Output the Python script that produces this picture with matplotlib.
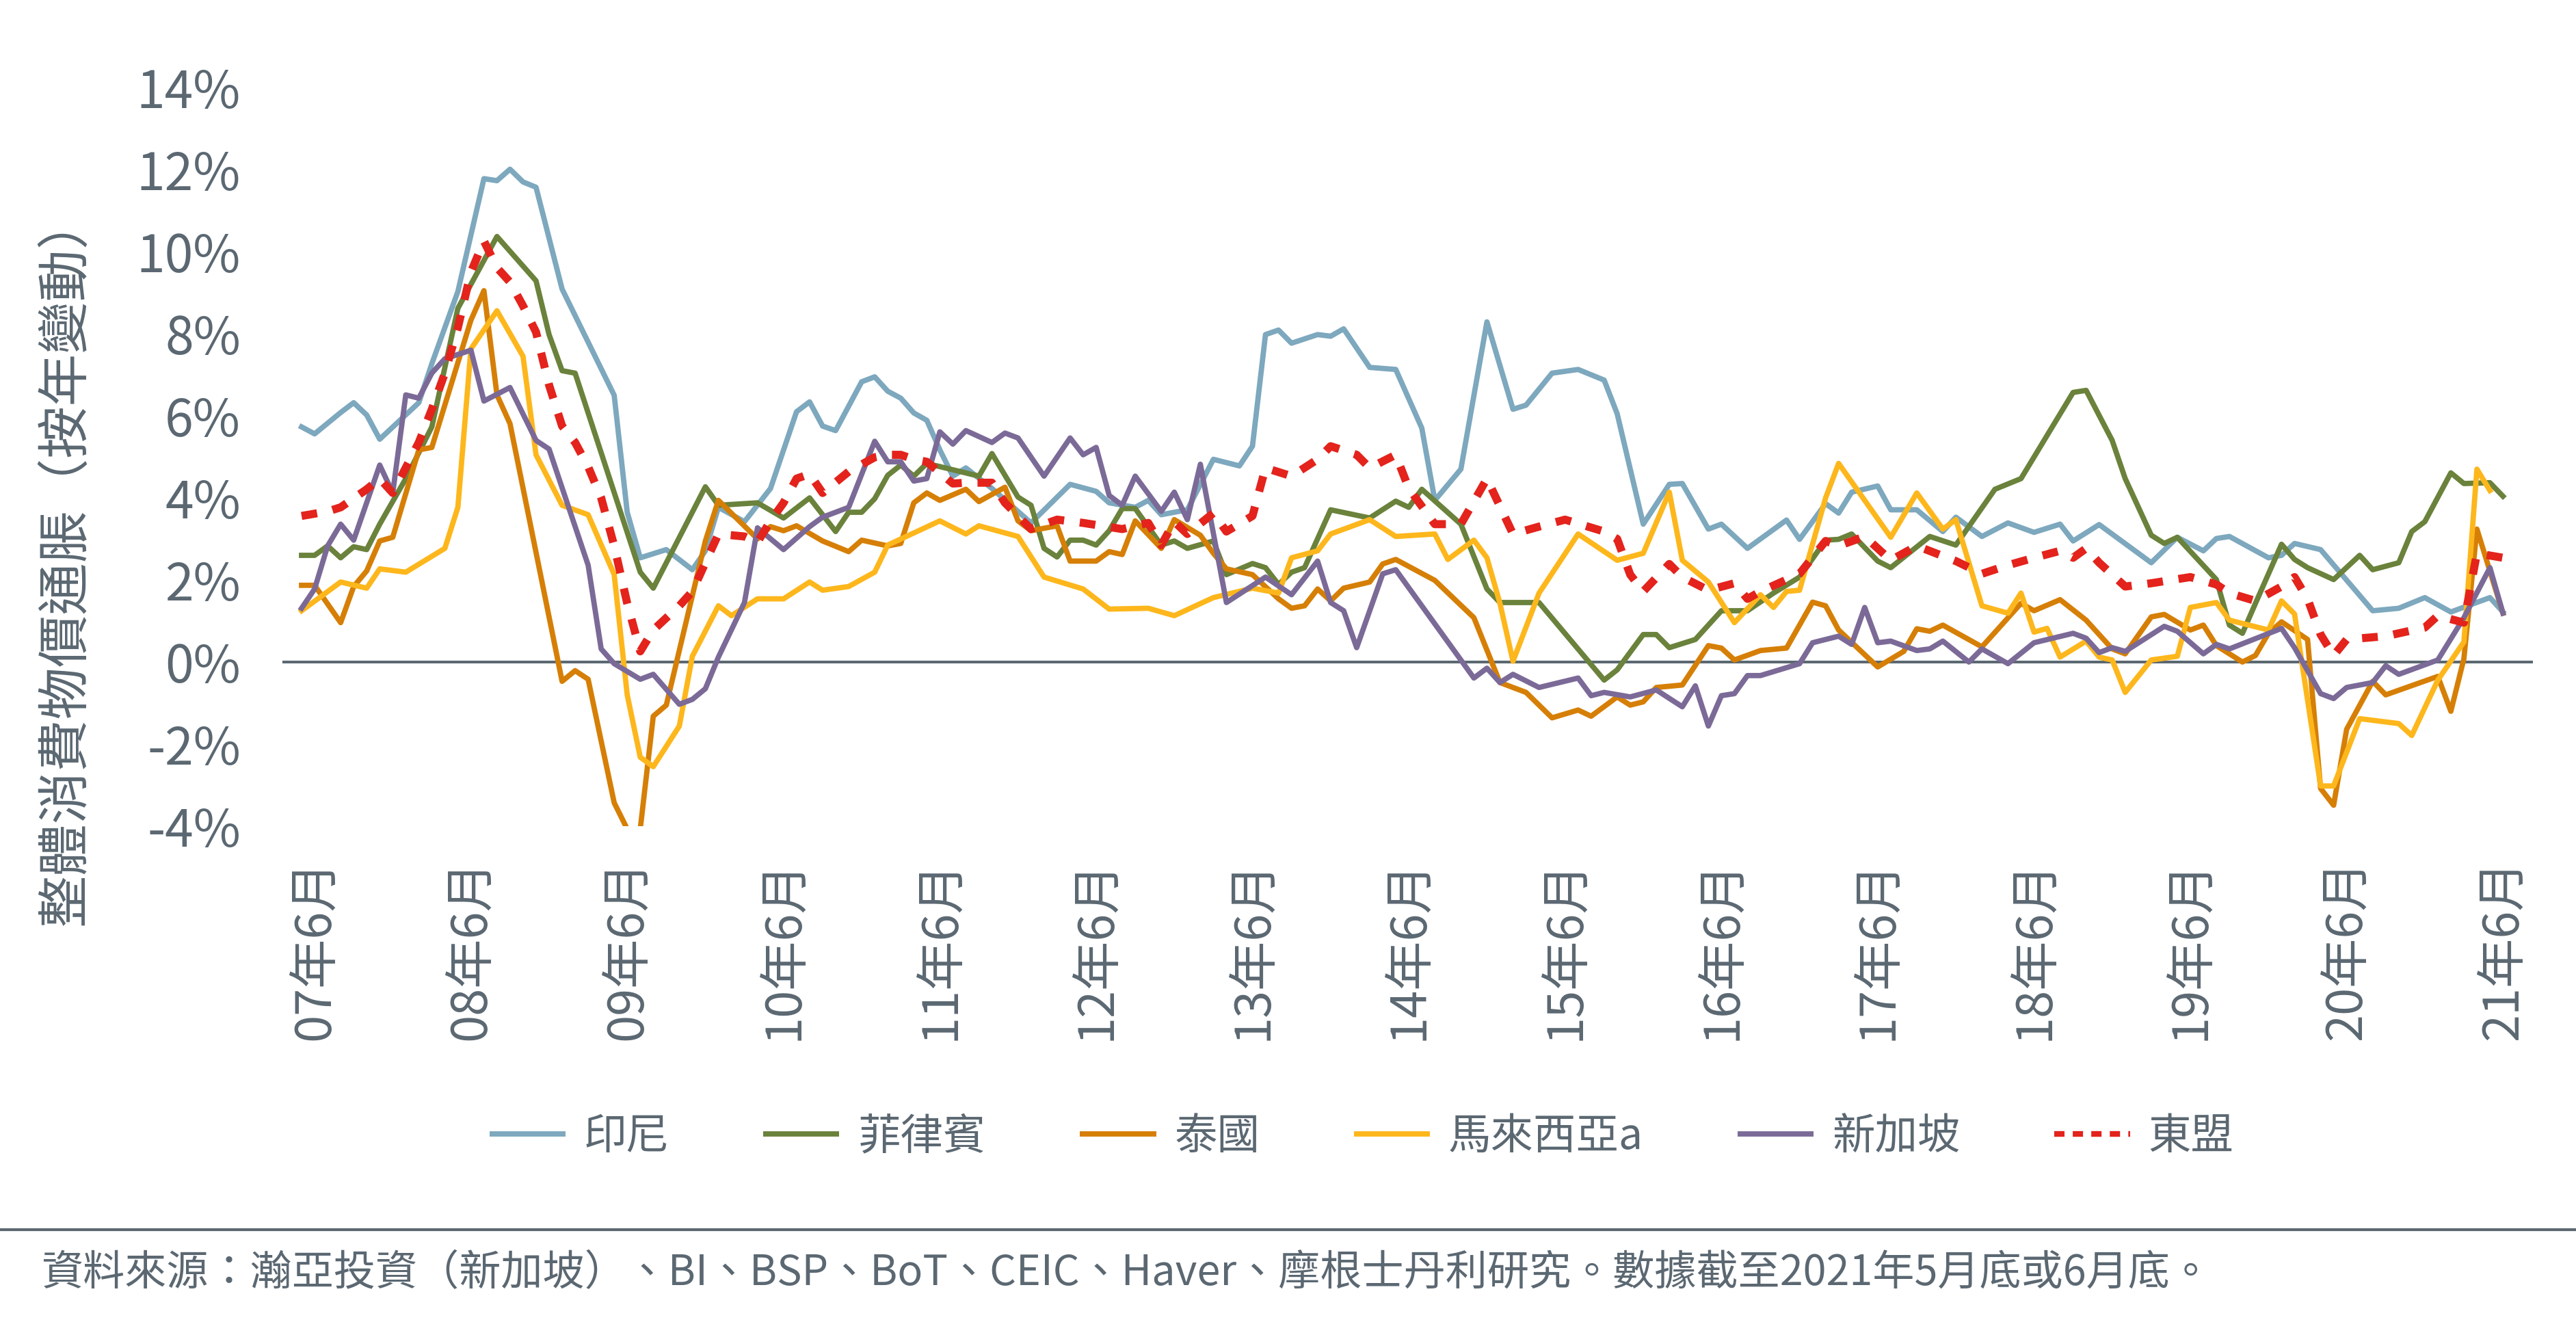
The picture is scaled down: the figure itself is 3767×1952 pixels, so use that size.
"""
ASEAN headline CPI inflation (YoY), Jun 2007 - Jun 2021.
Values read off the reference chart; x is months counted from Jun 2007.
"""

import matplotlib
matplotlib.use("Agg")
import matplotlib.pyplot as plt
from matplotlib.lines import Line2D

plt.rcParams['font.family'] = ['Noto Sans CJK TC', 'DejaVu Sans']

TEXT_GREY = '#5B6872'

# ---- data (month 0 = Jun 2007) ----
idn_months = [-1, 0, 2, 3, 4, 5, 8, 9, 11, 13, 14, 15, 16, 17, 19, 23, 24, 25, 27, 29,
              30, 31, 33, 35, 37, 38, 39, 40, 42, 43, 44, 45, 46, 47, 48, 49, 50, 52, 55, 58,
              60, 61, 63, 64, 65, 67, 69, 71, 72, 73, 74, 75, 77, 78, 79, 81, 83, 85, 86, 88,
              90, 92, 93, 95, 97, 99, 100, 102, 104, 105, 107, 108, 110, 113, 114, 116, 117, 118, 120, 121,
              123, 125, 126, 128, 130, 132, 134, 135, 137, 141, 143, 145, 146, 147, 150, 151, 152, 154, 158, 160,
              162, 164, 167, 168]
idn_values = [5.73, 5.56, 6.08, 6.32, 6.02, 5.43, 6.32, 7.27, 9.03, 11.78, 11.73, 12.01, 11.70, 11.57, 9.09, 6.5, 3.65, 2.54, 2.74, 2.25,
              2.71, 3.77, 3.42, 4.23, 6.10, 6.34, 5.75, 5.64, 6.83, 6.95, 6.60, 6.43, 6.07, 5.89, 5.17, 4.53, 4.73, 4.23, 3.39, 4.33,
              4.16, 3.88, 3.77, 3.94, 3.59, 3.71, 4.94, 4.78, 5.26, 7.98, 8.09, 7.77, 7.98, 7.94, 8.12, 7.18, 7.13, 5.70, 3.94, 4.70,
              8.29, 6.16, 6.26, 7.04, 7.13, 6.87, 6.05, 3.36, 4.33, 4.35, 3.24, 3.36, 2.77, 3.46, 2.99, 3.86, 3.63, 4.14, 4.29, 3.71,
              3.71, 3.18, 3.53, 3.06, 3.39, 3.16, 3.36, 2.95, 3.35, 2.42, 3.04, 2.71, 3.01, 3.06, 2.54, 2.60, 2.89, 2.74, 1.25, 1.31,
              1.57, 1.22, 1.57, 1.22]

phl_months = [-1, 0, 1, 2, 3, 4, 5, 7, 9, 11, 14, 17, 18, 19, 20, 25, 26, 30, 31, 34,
              36, 38, 40, 41, 42, 43, 44, 45, 46, 47, 51, 52, 54, 55, 56, 57, 58, 59, 60, 61,
              62, 63, 65, 66, 67, 69, 70, 72, 73, 74, 75, 76, 78, 81, 83, 84, 85, 88, 90, 91,
              94, 99, 100, 102, 103, 104, 106, 108, 110, 112, 114, 116, 117, 118, 120, 121, 124, 126, 129, 131,
              135, 136, 138, 139, 141, 142, 143, 146, 147, 148, 149, 151, 152, 153, 155, 157, 158, 160, 161, 162,
              164, 165, 167, 168]
phl_values = [2.60, 2.60, 2.83, 2.54, 2.81, 2.74, 3.36, 4.47, 5.73, 8.62, 10.37, 9.29, 7.98, 7.10, 7.04, 2.19, 1.80, 4.27, 3.82, 3.88,
              3.51, 4.00, 3.18, 3.65, 3.65, 3.98, 4.55, 4.80, 4.53, 4.84, 4.53, 5.08, 4.02, 3.82, 2.77, 2.56, 2.97, 2.97, 2.85, 3.20,
              3.74, 3.74, 2.85, 2.95, 2.77, 2.95, 2.13, 2.40, 2.30, 1.89, 2.19, 2.30, 3.71, 3.51, 3.92, 3.77, 4.21, 3.36, 1.78, 1.45,
              1.45, -0.44, -0.19, 0.67, 0.67, 0.35, 0.55, 1.25, 1.25, 1.68, 2.07, 2.97, 2.99, 3.12, 2.46, 2.30, 3.06, 2.85, 4.21, 4.47,
              6.57, 6.62, 5.40, 4.47, 3.09, 2.89, 3.04, 2.01, 0.90, 0.70, 1.43, 2.87, 2.50, 2.30, 2.01, 2.60, 2.25, 2.42, 3.18, 3.42,
              4.61, 4.35, 4.37, 4.04]

tha_months = [-1, 0, 2, 3, 4, 5, 6, 8, 9, 12, 13, 14, 15, 19, 20, 21, 23, 24, 25, 26,
              27, 30, 31, 34, 35, 36, 37, 39, 41, 42, 44, 45, 46, 47, 48, 50, 51, 53, 54, 55,
              57, 58, 60, 61, 62, 63, 65, 66, 68, 69, 70, 72, 74, 75, 76, 77, 78, 79, 81, 82,
              83, 86, 89, 91, 93, 95, 97, 98, 100, 101, 102, 103, 105, 107, 108, 109, 111, 113, 115, 116,
              117, 120, 122, 123, 124, 125, 128, 131, 132, 134, 136, 138, 139, 141, 142, 144, 145, 146, 148, 149,
              150, 151, 153, 154, 155, 156, 158, 159, 163, 164, 165, 166, 168]
tha_values = [1.87, 1.87, 0.96, 1.84, 2.22, 2.95, 3.04, 5.17, 5.23, 8.33, 9.05, 6.51, 5.81, -0.47, -0.21, -0.42, -3.43, -4.07, -4.07, -1.32,
              -1.05, 2.95, 3.94, 3.00, 3.30, 3.20, 3.32, 2.95, 2.69, 2.97, 2.83, 2.89, 3.88, 4.12, 3.94, 4.21, 3.91, 4.26, 3.44, 3.20,
              3.32, 2.46, 2.46, 2.69, 2.62, 3.44, 2.77, 3.47, 3.09, 2.65, 2.27, 2.13, 1.54, 1.31, 1.37, 1.78, 1.49, 1.80, 1.95, 2.39,
              2.50, 1.99, 1.08, -0.50, -0.74, -1.36, -1.17, -1.32, -0.85, -1.05, -0.97, -0.62, -0.56, 0.40, 0.34, 0.05, 0.28, 0.34, 1.46, 1.37,
              0.78, -0.12, 0.26, 0.81, 0.75, 0.90, 0.37, 1.43, 1.25, 1.52, 1.02, 0.32, 0.20, 1.10, 1.16, 0.78, 0.90, 0.40, 0.00, 0.16,
              0.70, 0.98, 0.55, -3.08, -3.49, -1.64, -0.47, -0.80, -0.35, -1.20, 0.08, 3.24, 1.19]

mys_months = [-1, 2, 4, 5, 7, 10, 11, 12, 14, 16, 17, 19, 21, 23, 24, 25, 26, 28, 29, 31,
              32, 34, 36, 38, 39, 41, 43, 44, 48, 50, 51, 54, 56, 59, 61, 64, 66, 69, 72, 74,
              75, 77, 78, 81, 83, 86, 87, 89, 90, 91, 92, 94, 97, 100, 102, 104, 105, 107, 109, 111,
              112, 113, 114, 116, 117, 121, 123, 125, 126, 128, 130, 131, 132, 133, 134, 136, 137, 138, 139, 141,
              143, 144, 146, 147, 150, 151, 152, 154, 155, 157, 160, 161, 163, 165, 166, 167]
mys_values = [1.25, 1.95, 1.80, 2.27, 2.19, 2.77, 3.77, 7.63, 8.56, 7.45, 5.05, 3.82, 3.59, 2.13, -0.80, -2.32, -2.55, -1.56, 0.14, 1.37,
              1.13, 1.54, 1.54, 1.95, 1.75, 1.84, 2.19, 2.85, 3.44, 3.12, 3.32, 3.06, 2.07, 1.78, 1.29, 1.31, 1.13, 1.57, 1.80, 1.68,
              2.54, 2.71, 3.12, 3.47, 3.06, 3.12, 2.50, 2.97, 2.54, 1.43, 0.02, 1.68, 3.12, 2.48, 2.65, 4.14, 2.48, 1.95, 0.96, 1.64,
              1.33, 1.72, 1.75, 4.00, 4.84, 3.04, 4.12, 3.24, 3.47, 1.37, 1.19, 1.68, 0.73, 0.82, 0.12, 0.51, 0.12, 0.05, -0.74, 0.05,
              0.14, 1.33, 1.45, 1.02, 0.78, 1.49, 1.17, -3.02, -3.02, -1.38, -1.50, -1.79, -0.44, 0.49, 4.70, 4.18]

sgp_months = [-1, 0, 1, 2, 3, 5, 6, 7, 8, 9, 10, 12, 13, 15, 17, 18, 21, 22, 23, 25,
              26, 28, 29, 30, 31, 33, 34, 36, 38, 39, 41, 43, 44, 45, 46, 47, 48, 49, 50, 52,
              53, 54, 56, 58, 59, 60, 61, 62, 63, 65, 66, 67, 68, 70, 73, 75, 77, 78, 79, 80,
              82, 83, 89, 90, 91, 92, 94, 97, 98, 99, 101, 103, 105, 106, 107, 108, 109, 110, 111, 114,
              115, 117, 118, 119, 120, 121, 123, 124, 125, 127, 128, 130, 132, 135, 136, 137, 138, 139, 142, 143,
              145, 146, 147, 151, 152, 154, 155, 156, 158, 159, 160, 163, 165, 167, 168]
sgp_values = [1.31, 1.78, 2.83, 3.36, 2.97, 4.80, 4.12, 6.51, 6.43, 7.04, 7.39, 7.60, 6.36, 6.69, 5.40, 5.19, 2.36, 0.32, -0.04, -0.42,
              -0.30, -1.03, -0.91, -0.65, 0.12, 1.45, 3.27, 2.74, 3.30, 3.53, 3.77, 5.38, 4.88, 4.88, 4.41, 4.47, 5.61, 5.31, 5.64, 5.35,
              5.58, 5.46, 4.53, 5.46, 5.05, 5.23, 4.06, 3.82, 4.53, 3.67, 4.14, 3.47, 4.82, 1.45, 2.07, 1.64, 2.46, 1.45, 1.25, 0.35,
              2.15, 2.25, -0.39, -0.15, -0.50, -0.30, -0.62, -0.39, -0.82, -0.74, -0.85, -0.68, -1.09, -0.58, -1.56, -0.82, -0.77, -0.33, -0.33, -0.04,
              0.47, 0.63, 0.43, 1.33, 0.47, 0.51, 0.28, 0.32, 0.51, 0.00, 0.32, -0.04, 0.47, 0.70, 0.58, 0.23, 0.35, 0.26, 0.87, 0.75,
              0.20, 0.43, 0.32, 0.82, 0.35, -0.77, -0.89, -0.62, -0.50, -0.09, -0.30, 0.05, 1.08, 2.30, 1.19]

asean_months = [-1, 1, 2, 4, 5, 6, 8, 9, 10, 11, 12, 13, 14, 15, 16, 17, 18, 19, 20, 21,
                22, 23, 24, 25, 26, 28, 29, 31, 33, 34, 35, 36, 37, 38, 39, 41, 43, 44, 45, 46,
                47, 49, 50, 52, 53, 55, 57, 59, 62, 64, 65, 66, 67, 69, 70, 72, 73, 75, 77, 78,
                80, 81, 83, 84, 86, 88, 90, 92, 94, 96, 99, 100, 101, 102, 104, 105, 107, 109, 110, 111,
                114, 116, 117, 119, 121, 123, 126, 128, 130, 132, 134, 135, 136, 137, 139, 141, 144, 146, 147, 149,
                151, 152, 153, 154, 155, 156, 159, 162, 163, 165, 166, 168]
asean_values = [3.56, 3.67, 3.77, 4.21, 4.47, 4.12, 5.35, 6.16, 7.04, 8.15, 9.50, 10.26, 9.61, 9.26, 8.68, 8.04, 6.75, 5.75, 5.35, 4.76,
                4.00, 2.83, 1.43, 0.26, 0.78, 1.37, 1.72, 3.12, 3.06, 2.92, 3.44, 3.88, 4.47, 4.58, 4.12, 4.64, 4.99, 5.05, 5.05, 4.94,
                4.88, 4.35, 4.37, 4.37, 3.88, 3.24, 3.47, 3.39, 3.24, 3.39, 2.85, 3.42, 3.12, 3.63, 3.18, 3.56, 4.73, 4.53, 4.94, 5.26,
                5.05, 4.73, 5.05, 4.23, 3.36, 3.36, 4.47, 3.12, 3.30, 3.47, 3.18, 3.00, 2.13, 1.72, 2.39, 2.07, 1.75, 1.92, 1.54, 1.72,
                2.15, 2.95, 2.83, 3.06, 2.48, 2.83, 2.46, 2.15, 2.36, 2.54, 2.71, 2.54, 2.77, 2.42, 1.84, 1.92, 2.07, 1.89, 1.68, 1.49,
                1.84, 2.07, 1.54, 0.67, 0.16, 0.55, 0.63, 0.84, 1.13, 0.96, 2.65, 2.54]

series_names = ['印尼', '菲律賓', '泰國', '馬來西亞a', '新加坡', '東盟']
series_colors = ['#7DA8BE', '#6A823B', '#D67F06', '#FDB71C', '#7B6A97', '#E3231C']

tick_months = [0, 12, 24, 36, 48, 60, 72, 84, 96, 108, 120, 132, 144, 156, 168]
tick_labels = ['07年6月', '08年6月', '09年6月', '10年6月', '11年6月', '12年6月', '13年6月',
               '14年6月', '15年6月', '16年6月', '17年6月', '18年6月', '19年6月', '20年6月', '21年6月']
y_ticks = [-4, -2, 0, 2, 4, 6, 8, 10, 12, 14]
y_labels = ['-4%', '-2%', '0%', '2%', '4%', '6%', '8%', '10%', '12%', '14%']

W, H = 3767, 1952
fig = plt.figure(figsize=(W / 100, H / 100), dpi=100)
ax = fig.add_axes([413 / W, 1 - 1208 / H, (3704 - 413) / W, (1208 - 128) / H])
ax.set_xlim(-2.47, 170.3)
ax.set_ylim(-4, 14)

for s in ax.spines.values():
    s.set_visible(False)
ax.axhline(0, color=TEXT_GREY, lw=2.9, zorder=1)

solid = [(idn_months, idn_values), (phl_months, phl_values), (tha_months, tha_values),
         (mys_months, mys_values), (sgp_months, sgp_values)]
handles = []
for (m, v), name, col in zip(solid, series_names[:5], series_colors[:5]):
    ln, = ax.plot(m, v, color=col, lw=5.6, solid_joinstyle='round', label=name, zorder=2)
    handles.append(Line2D([], [], color=col, lw=5.6, solid_capstyle='butt'))
ax.plot(asean_months, asean_values, color=series_colors[5], lw=8.5, ls=(0, (1.95, 1.95)),
        dash_capstyle='butt', zorder=3)
# legend sample for the dashed line uses a shorter dash like the original
handles.append(Line2D([], [], color=series_colors[5], lw=6, ls=(0, (1.8, 1.45)),
                      dash_capstyle='butt'))

ax.tick_params(length=0)
ax.set_yticks(y_ticks)
ax.set_yticklabels(y_labels, fontsize=54, color=TEXT_GREY)
ax.tick_params(axis='y', pad=44)
ax.set_xticks(tick_months)
ax.set_xticklabels(tick_labels, rotation=90, fontsize=52, color=TEXT_GREY)
ax.tick_params(axis='x', pad=35)

fig.text(96 / W, 1 - 818 / H, '整體消費物價通脹（按年變動）', rotation=90,
         fontsize=55, color=TEXT_GREY, ha='center', va='center')

fig.legend(handles=handles, labels=series_names, loc='center',
           bbox_to_anchor=(0.5286, 1 - 1662 / H), ncol=6,
           frameon=False, fontsize=45, labelcolor=TEXT_GREY, handlelength=1.78,
           handletextpad=0.43, columnspacing=2.2)

fig.add_artist(Line2D([0, 1], [1 - 1798 / H] * 2, color=TEXT_GREY, lw=3.0))
fig.text(60 / W, 1 - 1862 / H,
         '資料來源：瀚亞投資（新加坡）、BI、BSP、BoT、CEIC、Haver、摩根士丹利研究。數據截至2021年5月底或6月底。',
         fontsize=44, color=TEXT_GREY, ha='left', va='center')

fig.savefig('out.png', dpi=100)
